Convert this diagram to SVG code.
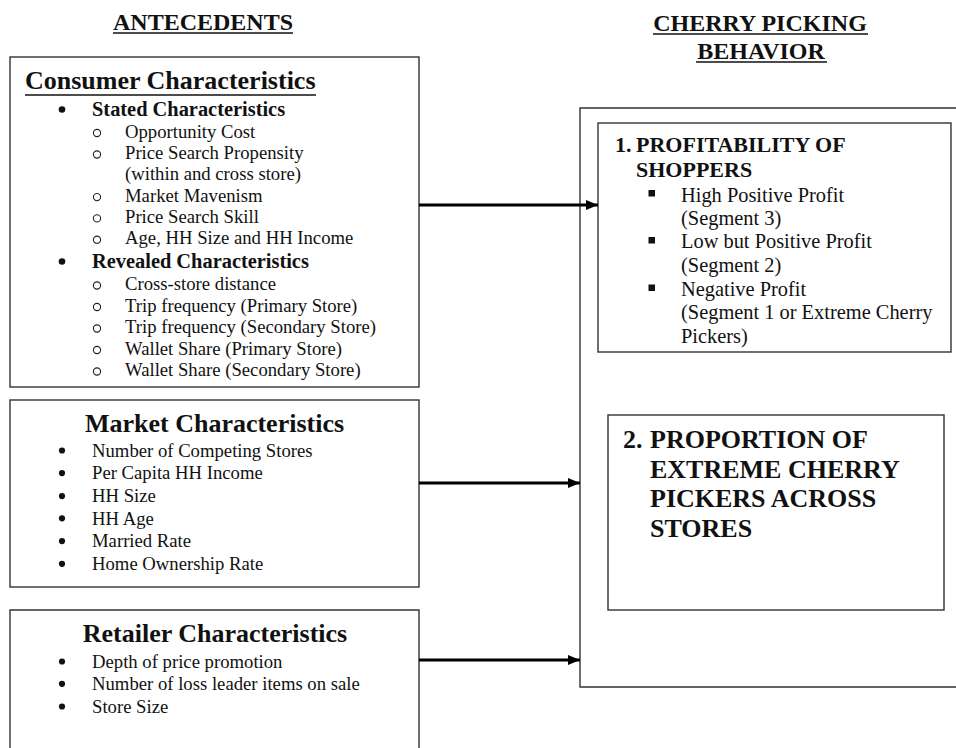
<svg xmlns="http://www.w3.org/2000/svg" width="956" height="748" viewBox="0 0 956 748">
<defs>
<style>
text{font-family:"Liberation Serif","Times New Roman",serif;fill:#111}
.hd{font-size:24px;font-weight:bold}
.ttl{font-size:26px;font-weight:bold}
.sub{font-size:20.4px;font-weight:bold}
.it{font-size:18.7px}
.rt{font-size:20.4px}
.b1{font-size:22px;font-weight:bold}
.b2{font-size:26px;font-weight:bold}
.dot{fill:#111}
.circ{fill:none;stroke:#222;stroke-width:1.1}
.box{fill:none;stroke:#333;stroke-width:1.4}
.ul{stroke:#111;stroke-width:1.5}
.arr{stroke:#000;stroke-width:3;fill:none}
</style>
<marker id="ah" markerWidth="12" markerHeight="10" refX="12" refY="5" orient="auto" markerUnits="userSpaceOnUse">
<path d="M0,0 L12,5 L0,10 Z" fill="#000"/>
</marker>
</defs>
<rect width="956" height="748" fill="#fff"/>

<g id="headers">
<text class="hd" x="203" y="30" text-anchor="middle">ANTECEDENTS</text>
<line class="ul" x1="113" y1="33" x2="293" y2="33"/>
<text class="hd" x="760" y="31" text-anchor="middle">CHERRY PICKING</text>
<line class="ul" x1="653" y1="34" x2="868" y2="34"/>
<text class="hd" x="761" y="59" text-anchor="middle">BEHAVIOR</text>
<line class="ul" x1="696" y1="62" x2="827" y2="62"/>
</g>

<g id="consumer">
<rect class="box" x="10" y="57" width="409" height="330"/>
<text class="ttl" x="25" y="89">Consumer Characteristics</text>
<line class="ul" x1="25" y1="95" x2="316" y2="95"/>
<circle class="dot" cx="62" cy="109.5" r="3.3"/>
<text class="sub" x="92" y="116">Stated Characteristics</text>
<circle class="circ" cx="97" cy="133" r="3.6"/><text class="it" x="125" y="137.5">Opportunity Cost</text>
<circle class="circ" cx="97" cy="154.5" r="3.6"/><text class="it" x="125" y="159">Price Search Propensity</text>
<text class="it" x="125" y="180.3">(within and cross store)</text>
<circle class="circ" cx="97" cy="197.1" r="3.6"/><text class="it" x="125" y="201.6">Market Mavenism</text>
<circle class="circ" cx="97" cy="218.4" r="3.6"/><text class="it" x="125" y="222.9">Price Search Skill</text>
<circle class="circ" cx="97" cy="239.7" r="3.6"/><text class="it" x="125" y="244.2">Age, HH Size and HH Income</text>
<circle class="dot" cx="62" cy="261.5" r="3.3"/>
<text class="sub" x="92" y="268">Revealed Characteristics</text>
<circle class="circ" cx="97" cy="285.5" r="3.6"/><text class="it" x="125" y="290">Cross-store distance</text>
<circle class="circ" cx="97" cy="307" r="3.6"/><text class="it" x="125" y="311.5">Trip frequency (Primary Store)</text>
<circle class="circ" cx="97" cy="328.5" r="3.6"/><text class="it" x="125" y="333">Trip frequency (Secondary Store)</text>
<circle class="circ" cx="97" cy="350" r="3.6"/><text class="it" x="125" y="354.5">Wallet Share (Primary Store)</text>
<circle class="circ" cx="97" cy="371.5" r="3.6"/><text class="it" x="125" y="376">Wallet Share (Secondary Store)</text>
</g>

<g id="market">
<rect class="box" x="10" y="400" width="409" height="187"/>
<text class="ttl" x="214.5" y="431.7" text-anchor="middle">Market Characteristics</text>
<circle class="dot" cx="62" cy="450.5" r="3.1"/><text class="it" x="92" y="456.7">Number of Competing Stores</text>
<circle class="dot" cx="62" cy="473.1" r="3.1"/><text class="it" x="92" y="479.3">Per Capita HH Income</text>
<circle class="dot" cx="62" cy="496.1" r="3.1"/><text class="it" x="92" y="502.3">HH Size</text>
<circle class="dot" cx="62" cy="518.3" r="3.1"/><text class="it" x="92" y="524.5">HH Age</text>
<circle class="dot" cx="62" cy="541.1" r="3.1"/><text class="it" x="92" y="547.3">Married Rate</text>
<circle class="dot" cx="62" cy="563.8" r="3.1"/><text class="it" x="92" y="570">Home Ownership Rate</text>
</g>

<g id="retailer">
<path class="box" d="M10,750 V610 H419 V750"/>
<text class="ttl" x="215" y="642.3" text-anchor="middle">Retailer Characteristics</text>
<circle class="dot" cx="62" cy="661.5" r="3.1"/><text class="it" x="92" y="667.7">Depth of price promotion</text>
<circle class="dot" cx="62" cy="683.8" r="3.1"/><text class="it" x="92" y="690">Number of loss leader items on sale</text>
<circle class="dot" cx="62" cy="706.5" r="3.1"/><text class="it" x="92" y="712.7">Store Size</text>
</g>

<g id="behavior">
<path class="box" d="M958,108 H580 V687 H958"/>
</g>

<g id="profitability">
<rect class="box" x="598" y="123" width="353" height="229"/>
<text class="b1" x="615" y="151.7">1.</text>
<text class="b1" x="636" y="151.7">PROFITABILITY OF</text>
<text class="b1" x="636" y="176.7">SHOPPERS</text>
<rect x="648.5" y="190" width="6.5" height="6.5" fill="#111"/>
<text class="rt" x="681" y="201.7">High Positive Profit</text>
<text class="rt" x="681" y="225">(Segment 3)</text>
<rect x="648.5" y="237" width="6.5" height="6.5" fill="#111"/>
<text class="rt" x="681" y="248.3">Low but Positive Profit</text>
<text class="rt" x="681" y="271.7">(Segment 2)</text>
<rect x="648.5" y="284.5" width="6.5" height="6.5" fill="#111"/>
<text class="rt" x="681" y="296">Negative Profit</text>
<text class="rt" x="681" y="319.3">(Segment 1 or Extreme Cherry</text>
<text class="rt" x="681" y="342.7">Pickers)</text>
</g>

<g id="proportion">
<rect class="box" x="608" y="415" width="336" height="195"/>
<text class="b2" x="623" y="448.3">2.</text>
<text class="b2" x="650" y="448.3">PROPORTION OF</text>
<text class="b2" x="650" y="477.7">EXTREME CHERRY</text>
<text class="b2" x="650" y="507.3">PICKERS ACROSS</text>
<text class="b2" x="650" y="536.7">STORES</text>
</g>

<g id="connectors">
<line class="arr" x1="419" y1="205" x2="598" y2="205" marker-end="url(#ah)"/>
<line class="arr" x1="419" y1="483" x2="580" y2="483" marker-end="url(#ah)"/>
<line class="arr" x1="419" y1="660" x2="580" y2="660" marker-end="url(#ah)"/>
</g>
</svg>
